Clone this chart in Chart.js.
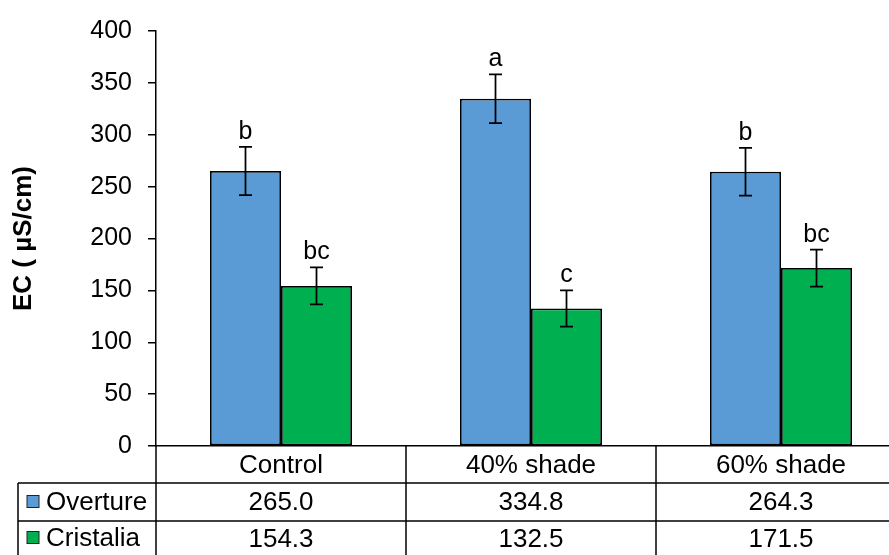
<!DOCTYPE html>
<html>
<head>
<meta charset="utf-8">
<script src="https://cdn.jsdelivr.net/npm/chart.js"></script>
<style>
  html, body { margin: 0; padding: 0; overflow: hidden; background: #fff; }
  canvas { display: block; }
</style>
</head>
<body>
<canvas id="myChart" width="906" height="555"></canvas>
<script>
// data
var categories = ["Control", "40% shade", "60% shade"];
var seriesNames = ["Overture", "Cristalia"];
var overture = [265.0, 334.8, 264.3];
var cristalia = [154.3, 132.5, 171.5];
var overtureErr = [23.2, 23.5, 23.0];
var cristaliaErr = [17.9, 17.5, 17.8];
var overtureLetters = ["b", "a", "b"];
var cristaliaLetters = ["bc", "c", "bc"];
var yTicks = [0, 50, 100, 150, 200, 250, 300, 350, 400];

var colors = ["#5B9BD5", "#00B050"];
var FONT = "'Liberation Sans', Arial, sans-serif";

// error bars + letters above each bar
var errorBars = {
  id: 'errorBars',
  afterDatasetsDraw: function(chart) {
    var ctx = chart.ctx;
    var y = chart.scales.y;
    chart.data.datasets.forEach(function(ds, d) {
      var meta = chart.getDatasetMeta(d);
      meta.data.forEach(function(bar, i) {
        var v = ds.data[i], e = ds.errors[i];
        var top = y.getPixelForValue(v + e);
        var bot = y.getPixelForValue(v - e);
        ctx.save();
        ctx.strokeStyle = '#000';
        ctx.lineWidth = 1.75;
        ctx.beginPath();
        ctx.moveTo(bar.x, top); ctx.lineTo(bar.x, bot);
        ctx.moveTo(bar.x - 6.5, top); ctx.lineTo(bar.x + 6.5, top);
        ctx.moveTo(bar.x - 6.5, bot); ctx.lineTo(bar.x + 6.5, bot);
        ctx.stroke();
        ctx.fillStyle = '#000';
        ctx.font = '25px ' + FONT;
        ctx.textAlign = 'center';
        ctx.textBaseline = 'alphabetic';
        ctx.fillText(ds.letters[i], bar.x, top - 8);
        ctx.restore();
      });
    });
  }
};

// data table under the plot
var dataTable = {
  id: 'dataTable',
  afterDraw: function(chart) {
    var ctx = chart.ctx;
    var area = chart.chartArea;
    var x = chart.scales.x;
    var w = x.getPixelForValue(1) - x.getPixelForValue(0);
    var r0 = area.bottom, r1 = r0 + 37, r2 = r1 + 38, r3 = chart.height;
    var leftEdge = 18;

    ctx.save();
    ctx.strokeStyle = '#000';
    ctx.lineWidth = 1.5;
    ctx.beginPath();
    for (var i = 0; i <= categories.length; i++) {
      var bx = x.getPixelForValue(i) - w / 2;
      ctx.moveTo(bx, r0); ctx.lineTo(bx, r3);
    }
    ctx.moveTo(leftEdge, r1); ctx.lineTo(area.right, r1);
    ctx.moveTo(leftEdge, r2); ctx.lineTo(area.right, r2);
    ctx.moveTo(leftEdge, r1); ctx.lineTo(leftEdge, r3);
    ctx.stroke();

    ctx.fillStyle = '#000';
    ctx.font = '26px ' + FONT;
    ctx.textAlign = 'center';
    ctx.textBaseline = 'middle';
    categories.forEach(function(c, i) {
      var cx = x.getPixelForValue(i);
      ctx.fillText(c, cx, (r0 + r1) / 2 + 1);
      ctx.fillText(overture[i].toFixed(1), cx, (r1 + r2) / 2 + 1);
      ctx.fillText(cristalia[i].toFixed(1), cx, (r2 + r3) / 2 + 2);
    });

    // legend keys
    var rows = [(r1 + r2) / 2, (r2 + r3) / 2];
    seriesNames.forEach(function(name, s) {
      var cy = rows[s];
      ctx.fillStyle = colors[s];
      ctx.fillRect(27, cy - 6.5, 12, 12);
      ctx.lineWidth = 1;
      ctx.strokeStyle = '#222';
      ctx.strokeRect(27, cy - 6.5, 12, 12);
      ctx.fillStyle = '#000';
      ctx.textAlign = 'left';
      ctx.fillText(name, 46, cy + 1);
    });
    ctx.restore();
  }
};

var ctx = document.getElementById('myChart');
var myChart = new Chart(ctx, {
  type: 'bar',
  data: {
    labels: categories,
    datasets: [
      {
        label: seriesNames[0],
        data: overture,
        errors: overtureErr,
        letters: overtureLetters,
        backgroundColor: colors[0],
        borderColor: '#000',
        borderWidth: 1.75,
        borderSkipped: false
      },
      {
        label: seriesNames[1],
        data: cristalia,
        errors: cristaliaErr,
        letters: cristaliaLetters,
        backgroundColor: colors[1],
        borderColor: '#000',
        borderWidth: 1.75,
        borderSkipped: false
      }
    ]
  },
  options: {
    responsive: false,
    animation: false,
    layout: { padding: { top: 29, left: 0, right: 0, bottom: 0 } },
    categoryPercentage: 0.568,
    barPercentage: 1,
    plugins: {
      legend: { display: false },
      tooltip: { enabled: false }
    },
    scales: {
      x: {
        ticks: { display: false },
        grid: { display: false },
        border: { display: true, color: '#000', width: 1.5 },
        afterFit: function(scale) { scale.height = 109; }
      },
      y: {
        min: 0,
        max: 400,
        afterBuildTicks: function(scale) {
          scale.ticks = yTicks.map(function(v) { return { value: v }; });
        },
        ticks: {
          color: '#000',
          padding: 16,
          font: { family: FONT, size: 25 }
        },
        grid: {
          drawOnChartArea: false,
          drawTicks: true,
          tickLength: 8,
          color: '#000',
          lineWidth: 1.5
        },
        border: { display: true, color: '#000', width: 1.5 },
        title: {
          display: true,
          text: 'EC ( µS/cm)',
          color: '#000',
          padding: { top: 8, bottom: 0 },
          font: { family: FONT, size: 26, weight: 'bold' }
        },
        afterFit: function(scale) { scale.width = 156; }
      }
    }
  },
  plugins: [errorBars, dataTable]
});
</script>
</body>
</html>
